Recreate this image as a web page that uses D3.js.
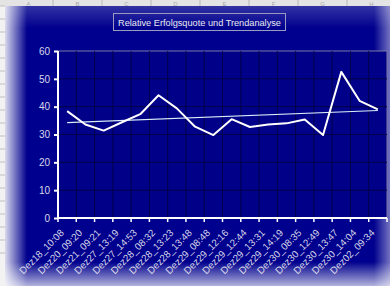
<!DOCTYPE html>
<html>
<head>
<meta charset="utf-8">
<script src="https://cdn.jsdelivr.net/npm/d3@7"></script>
<style>
  body { margin: 0; background: #fff; }
  svg { display: block; font-family: "Liberation Sans", Arial, sans-serif; }
</style>
</head>
<body>
<svg width="390" height="286"></svg>
<script>
// labels along the x axis
var labels = [
  "Dez18_10:08", "Dez20_09:20", "Dez21_09:21", "Dez27_13:19", "Dez27_14:53",
  "Dez28_08:32", "Dez28_13:23", "Dez28_13:48", "Dez29_08:48", "Dez29_12:16",
  "Dez29_12:44", "Dez29_13:31", "Dez29_14:19", "Dez30_08:35", "Dez30_12:49",
  "Dez30_13:47", "Dez30_14:04", "Dez02_09:34"
];
// relative success rate (%)
var quote = [
  38.4, 33.6, 31.4, 34.4, 37.3, 44.1, 39.4, 32.8, 29.8, 35.5,
  32.7, 33.6, 34.0, 35.4, 29.8, 52.5, 42.1, 39.0
];
var yTicks = [0, 10, 20, 30, 40, 50, 60];
var sheetCols = ["A", "B", "C", "D", "E", "F", "G", "H"];

var svg = d3.select("svg"),
    width = +svg.attr("width"),
    height = +svg.attr("height");

var plot = {left: 58, right: 387, top: 51, bottom: 218};

// spreadsheet behind the chart
svg.append("rect").attr("width", width).attr("height", height).attr("fill", "#f2f2f2");
svg.append("rect").attr("width", width).attr("height", 6).attr("fill", "#e4e4e4");
var colX = d3.scaleBand().domain(sheetCols).range([4, 396]);
svg.selectAll(".colsep").data(sheetCols).enter().append("line")
  .attr("x1", function(d) { return colX(d) + colX.bandwidth(); })
  .attr("x2", function(d) { return colX(d) + colX.bandwidth(); })
  .attr("y1", 0).attr("y2", 6).attr("stroke", "#b8b8b8");
svg.selectAll(".collab").data(sheetCols).enter().append("text")
  .attr("x", function(d) { return colX(d) + colX.bandwidth() / 2; })
  .attr("y", 5.5).attr("text-anchor", "middle")
  .attr("font-size", 6).attr("fill", "#a8a8a8").text(function(d) { return d; });
svg.selectAll(".rowsep").data(d3.range(20)).enter().append("line")
  .attr("x1", 0).attr("x2", 5)
  .attr("y1", function(d) { return 6 + d * 13; }).attr("y2", function(d) { return 6 + d * 13; })
  .attr("stroke", "#c0c0c0");

// chart area with the light edges
var defs = svg.append("defs");
function grad(id, x1, y1, x2, y2, stops) {
  var g = defs.append("linearGradient").attr("id", id)
    .attr("x1", x1).attr("y1", y1).attr("x2", x2).attr("y2", y2);
  stops.forEach(function(s) {
    g.append("stop").attr("offset", s[0]).attr("stop-color", s[1]).attr("stop-opacity", s[2]);
  });
}
grad("gl", 0, 0, 1, 0, [[0, "#ffffff", 0.85], [1, "#ffffff", 0]]);
grad("gr", 1, 0, 0, 0, [[0, "#ffffff", 0.45], [1, "#ffffff", 0]]);
grad("gt", 0, 0, 0, 1, [[0, "#ffffff", 0.2], [1, "#ffffff", 0]]);
grad("gb", 0, 1, 0, 0, [[0, "#ffffff", 0.7], [1, "#ffffff", 0]]);

var cx0 = 5, cy0 = 6;
svg.append("rect").attr("x", cx0).attr("y", cy0).attr("width", width - cx0).attr("height", height - cy0)
  .attr("fill", "#00008e");
svg.append("rect").attr("x", cx0).attr("y", cy0).attr("width", width - cx0).attr("height", 22).attr("fill", "url(#gt)");
svg.append("rect").attr("x", cx0).attr("y", height - 24).attr("width", width - cx0).attr("height", 24).attr("fill", "url(#gb)");
svg.append("rect").attr("x", cx0).attr("y", cy0).attr("width", 22).attr("height", height - cy0).attr("fill", "url(#gl)");
svg.append("rect").attr("x", width - 16).attr("y", cy0).attr("width", 16).attr("height", height - cy0).attr("fill", "url(#gr)");

// title box
var title = svg.append("g");
title.append("rect").attr("x", 113.5).attr("y", 13.5).attr("width", 172).attr("height", 17)
  .attr("fill", "none").attr("stroke", "#9a9ac0").attr("stroke-width", 1);
title.append("text").attr("x", 199.5).attr("y", 25.5).attr("text-anchor", "middle")
  .attr("font-size", 9.2).attr("fill", "#e8e8f0").text("Relative Erfolgsquote und Trendanalyse");

// scales
var x = d3.scaleBand().domain(labels).range([plot.left, plot.right]).padding(0);
var y = d3.scaleLinear().domain([0, 60]).range([plot.bottom, plot.top]);

// plot area
svg.append("rect").attr("x", plot.left).attr("y", plot.top)
  .attr("width", plot.right - plot.left).attr("height", plot.bottom - plot.top)
  .attr("fill", "#000088").attr("stroke", "#7a7aa8").attr("stroke-width", 1);

// gridlines
svg.append("g").selectAll("line").data(yTicks.slice(1, -1)).enter().append("line")
  .attr("x1", plot.left).attr("x2", plot.right)
  .attr("y1", function(d) { return y(d); }).attr("y2", function(d) { return y(d); })
  .attr("stroke", "#00004a").attr("stroke-width", 1);
svg.append("g").selectAll("line").data(labels.slice(1)).enter().append("line")
  .attr("x1", function(d) { return x(d); }).attr("x2", function(d) { return x(d); })
  .attr("y1", plot.top).attr("y2", plot.bottom)
  .attr("stroke", "#00004a").attr("stroke-width", 1);

// y axis
var yAxis = svg.append("g").attr("transform", "translate(" + plot.left + ",0)")
  .call(d3.axisLeft(y).tickValues(yTicks).tickSize(4).tickPadding(4));
yAxis.selectAll("path, line").attr("stroke", "#ffffff").attr("stroke-width", 2);
yAxis.select(".domain").attr("d", "M0," + plot.bottom + "V" + plot.top);
yAxis.selectAll("text").attr("fill", "#d8d8e8").attr("font-size", 10)
  .attr("font-family", "Liberation Sans, Arial, sans-serif");

// x axis: ticks on category borders
var xg = svg.append("g");
xg.append("line").attr("x1", plot.left).attr("x2", plot.right)
  .attr("y1", plot.bottom).attr("y2", plot.bottom).attr("stroke", "#ffffff").attr("stroke-width", 2);
xg.selectAll(".tk").data(labels.concat(["end"])).enter().append("line")
  .attr("x1", function(d, i) { return plot.left + i * x.bandwidth(); })
  .attr("x2", function(d, i) { return plot.left + i * x.bandwidth(); })
  .attr("y1", plot.bottom).attr("y2", plot.bottom + 4)
  .attr("stroke", "#ffffff").attr("stroke-width", 1.5);
xg.selectAll("text").data(labels).enter().append("text")
  .attr("transform", function(d) {
    return "translate(" + (x(d) + x.bandwidth() / 2 - 5) + "," + (plot.bottom + 13) + ") rotate(-45)";
  })
  .attr("text-anchor", "end").attr("dy", "0.35em")
  .attr("font-size", 9.8).attr("fill", "#d8d8e8")
  .text(function(d) { return d; });

// linear trend (least squares)
var n = quote.length;
var mx = d3.mean(quote, function(d, i) { return i; }), my = d3.mean(quote);
var sxy = d3.sum(quote, function(d, i) { return (i - mx) * (d - my); });
var sxx = d3.sum(quote, function(d, i) { return (i - mx) * (i - mx); });
var slope = sxy / sxx, icpt = my - slope * mx;

var cxp = function(i) { return x(labels[i]) + x.bandwidth() / 2; };

svg.append("path")
  .datum([0, n - 1])
  .attr("fill", "none").attr("stroke", "#d8eef8").attr("stroke-width", 1.2)
  .attr("d", d3.line().x(function(i) { return cxp(i); }).y(function(i) { return y(icpt + slope * i); }));

svg.append("path")
  .datum(quote)
  .attr("fill", "none").attr("stroke", "#ffffff").attr("stroke-width", 2)
  .attr("stroke-linejoin", "round")
  .attr("d", d3.line().x(function(d, i) { return cxp(i); }).y(function(d) { return y(d); }));
</script>
</body>
</html>
